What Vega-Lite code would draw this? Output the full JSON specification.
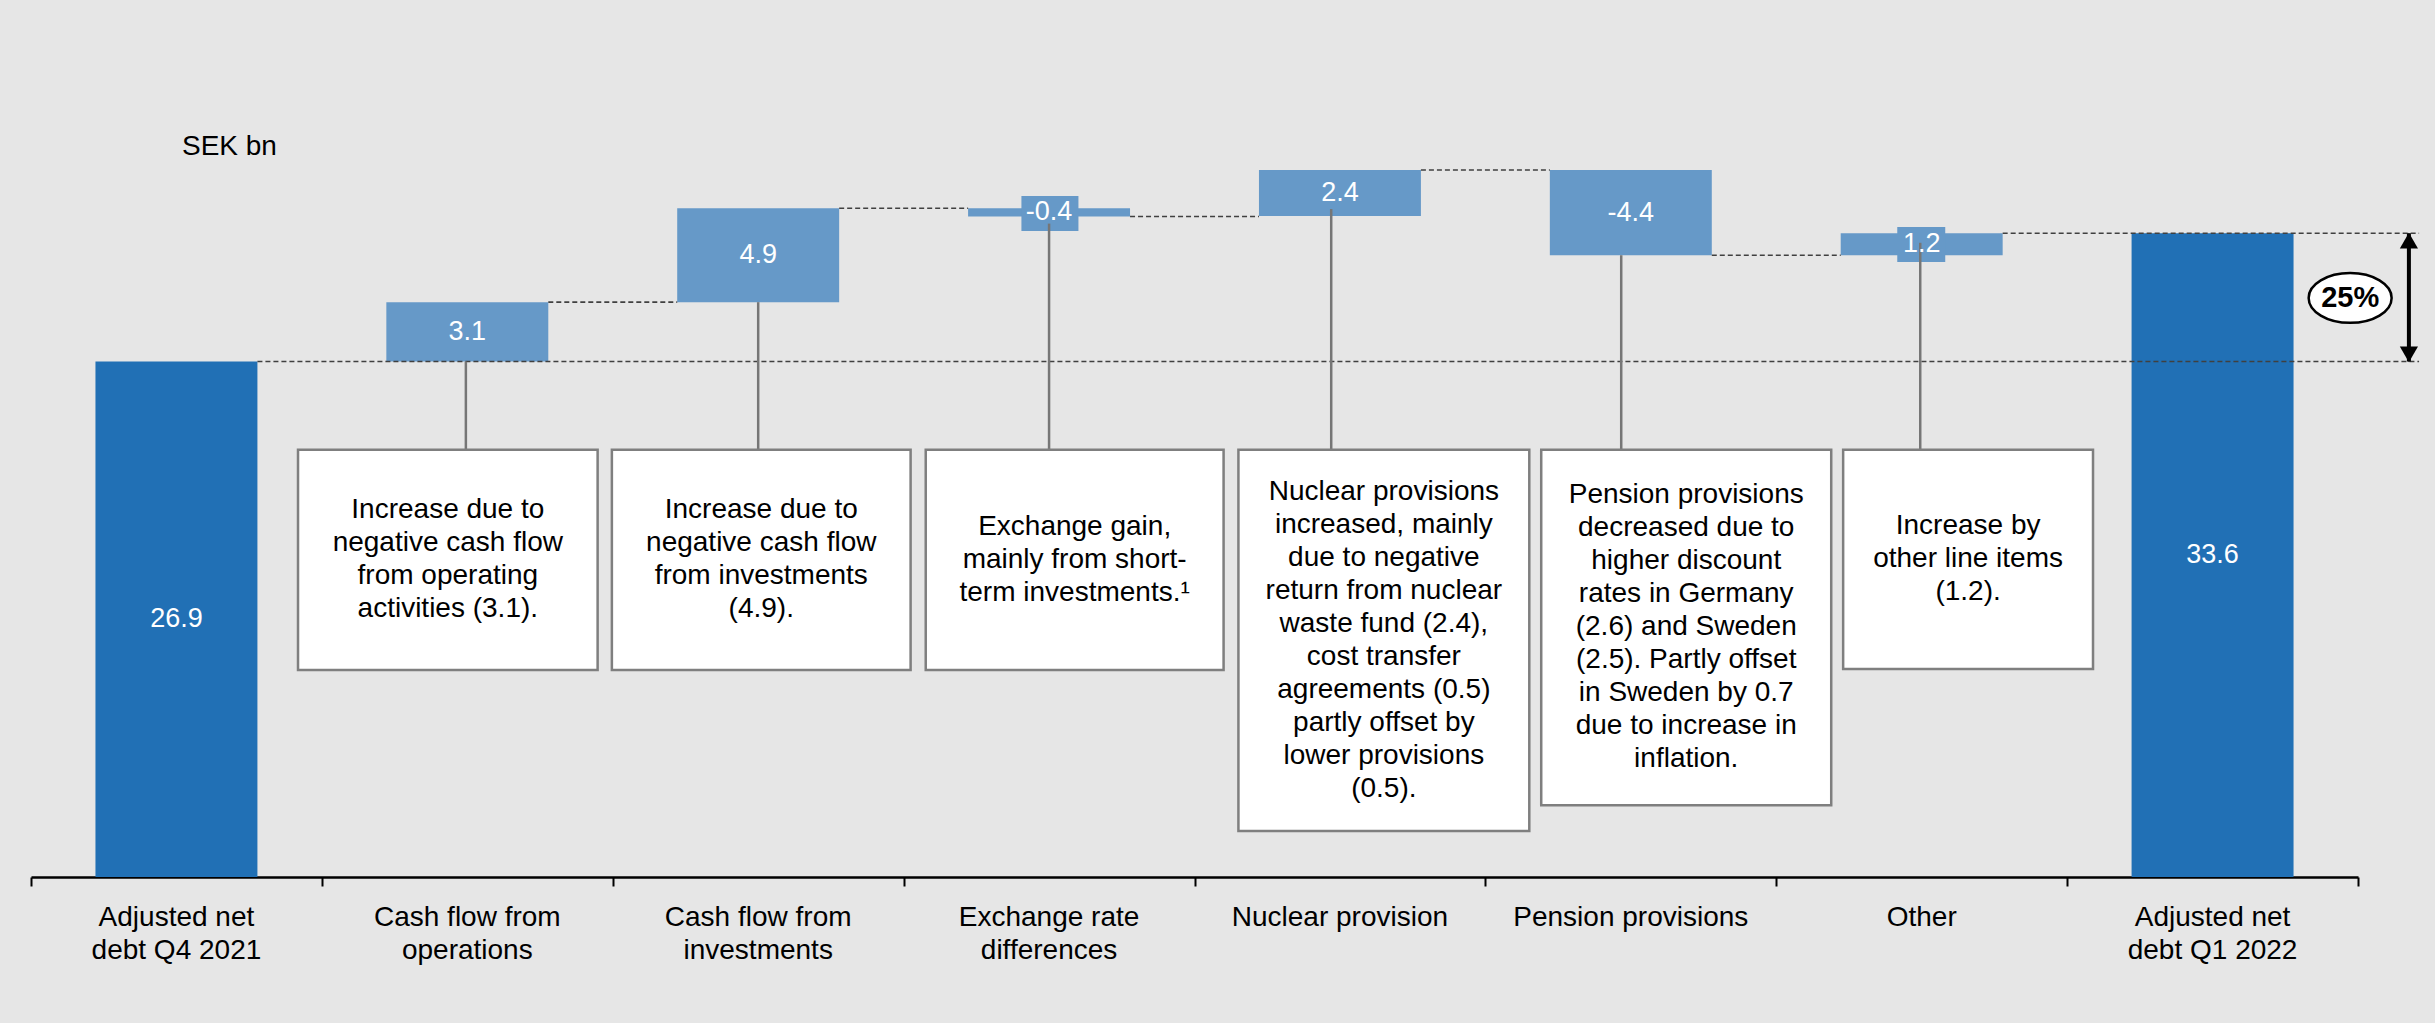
{
  "$schema": "https://vega.github.io/schema/vega-lite/v6.json",
  "width": 2327,
  "height": 877,
  "autosize": {"type": "none"},
  "padding": {"left": 31, "top": 0, "right": 77, "bottom": 146},
  "background": "#e6e6e6",
  "view": {"stroke": null},
  "config": {"font": "Liberation Sans"},
  "datasets": {
    "steps": [
      {"cat": "Adjusted net\ndebt Q4 2021", "i": 0, "start": 0, "end": 26.9, "value": "26.9", "kind": "total"},
      {"cat": "Cash flow from\noperations", "i": 1, "start": 26.9, "end": 30.0, "value": "3.1", "kind": "delta"},
      {"cat": "Cash flow from\ninvestments", "i": 2, "start": 30.0, "end": 34.9, "value": "4.9", "kind": "delta"},
      {"cat": "Exchange rate\ndifferences", "i": 3, "start": 34.47, "end": 34.9, "value": "-0.4", "kind": "delta"},
      {"cat": "Nuclear provision", "i": 4, "start": 34.5, "end": 36.9, "value": "2.4", "kind": "delta"},
      {"cat": "Pension provisions", "i": 5, "start": 32.45, "end": 36.9, "value": "-4.4", "kind": "delta"},
      {"cat": "Other", "i": 6, "start": 32.45, "end": 33.6, "value": "1.2", "kind": "delta"},
      {"cat": "Adjusted net\ndebt Q1 2022", "i": 7, "start": 0, "end": 33.6, "value": "33.6", "kind": "total"}
    ],
    "badges": [
      {"x0": 3.405, "x1": 3.601, "y0": 33.72, "y1": 35.54},
      {"x0": 6.416, "x1": 6.581, "y0": 32.1, "y1": 33.92}
    ],
    "dashes": [
      {"y": 26.9, "x0": 0.7784, "x1": 8.21},
      {"y": 30.0, "x0": 1.7784, "x1": 2.2216},
      {"y": 34.9, "x0": 2.7784, "x1": 3.2216},
      {"y": 34.47, "x0": 3.7784, "x1": 4.2216},
      {"y": 36.9, "x0": 4.7784, "x1": 5.2216},
      {"y": 32.45, "x0": 5.7784, "x1": 6.2216},
      {"y": 33.6, "x0": 6.7784, "x1": 8.21}
    ],
    "boxes": [
      {"x0": 0.918, "x1": 1.948, "top": 22.3, "bottom": 10.8, "lx": 1.495, "ly": 26.9, "note": "Increase due to\nnegative cash flow\nfrom operating\nactivities (3.1)."},
      {"x0": 1.997, "x1": 3.024, "top": 22.3, "bottom": 10.8, "lx": 2.5, "ly": 30.0, "note": "Increase due to\nnegative cash flow\nfrom investments\n(4.9)."},
      {"x0": 3.076, "x1": 4.1, "top": 22.3, "bottom": 10.8, "lx": 3.5, "ly": 34.1, "note": "Exchange gain,\nmainly from short-\nterm investments.¹"},
      {"x0": 4.151, "x1": 5.151, "top": 22.3, "bottom": 2.4, "lx": 4.47, "ly": 34.86, "note": "Nuclear provisions\nincreased, mainly\ndue to negative\nreturn from nuclear\nwaste fund (2.4),\ncost transfer\nagreements (0.5)\npartly offset by\nlower provisions\n(0.5)."},
      {"x0": 5.192, "x1": 6.189, "top": 22.3, "bottom": 3.75, "lx": 5.467, "ly": 32.45, "note": "Pension provisions\ndecreased due to\nhigher discount\nrates in Germany\n(2.6) and Sweden\n(2.5). Partly offset\nin Sweden by 0.7\ndue to increase in\ninflation."},
      {"x0": 6.23, "x1": 7.089, "top": 22.3, "bottom": 10.85, "lx": 6.495, "ly": 33.1, "note": "Increase by\nother line items\n(1.2)."}
    ],
    "arrow": [{"x": 8.175, "from": 26.9, "to": 33.6}],
    "heads": [
      {"x": 8.175, "y": 33.21, "dir": "up"},
      {"x": 8.175, "y": 27.28, "dir": "down"}
    ],
    "badge25": [{"x": 7.973, "y": 30.22, "t": "25%"}],
    "unit": [{"x": 0.519, "y": 38.1, "t": "SEK bn"}]
  },
  "layer": [
    {
      "data": {"name": "steps"},
      "transform": [
        {"calculate": "datum.i + 0.2216", "as": "bx0"},
        {"calculate": "datum.i + 0.7784", "as": "bx1"}
      ],
      "mark": {"type": "rect"},
      "encoding": {
        "x": {"field": "bx0", "type": "quantitative", "scale": {"domain": [0, 8], "nice": false, "zero": false},
              "axis": {"values": [0, 1, 2, 3, 4, 5, 6, 7, 8], "labels": false, "title": null, "grid": false, "tickSize": 9, "tickWidth": 2, "tickColor": "#000000", "domainColor": "#000000", "domainWidth": 2.5}},
        "x2": {"field": "bx1"},
        "y": {"field": "start", "type": "quantitative", "scale": {"domain": [0, 45.77], "nice": false}, "axis": null},
        "y2": {"field": "end"},
        "color": {"field": "kind", "type": "nominal", "scale": {"domain": ["total", "delta"], "range": ["#2170b5", "#6699c8"]}, "legend": null}
      }
    },
    {
      "data": {"name": "badges"},
      "mark": {"type": "rect", "color": "#6699c8"},
      "encoding": {
        "x": {"field": "x0", "type": "quantitative", "scale": {"domain": [0, 8], "nice": false, "zero": false},
              "axis": {"values": [0, 1, 2, 3, 4, 5, 6, 7, 8], "labels": false, "title": null, "grid": false, "tickSize": 9, "tickWidth": 2, "tickColor": "#000000", "domainColor": "#000000", "domainWidth": 2.5}},
        "x2": {"field": "x1"},
        "y": {"field": "y0", "type": "quantitative", "scale": {"domain": [0, 45.77], "nice": false}, "axis": null},
        "y2": {"field": "y1"}
      }
    },
    {
      "data": {"name": "dashes"},
      "mark": {"type": "rule", "color": "#404040", "strokeWidth": 1.6, "strokeDash": [5, 3]},
      "encoding": {
        "x": {"field": "x0", "type": "quantitative", "scale": {"domain": [0, 8], "nice": false, "zero": false},
              "axis": {"values": [0, 1, 2, 3, 4, 5, 6, 7, 8], "labels": false, "title": null, "grid": false, "tickSize": 9, "tickWidth": 2, "tickColor": "#000000", "domainColor": "#000000", "domainWidth": 2.5}},
        "x2": {"field": "x1"},
        "y": {"field": "y", "type": "quantitative", "scale": {"domain": [0, 45.77], "nice": false}, "axis": null}
      }
    },
    {
      "data": {"name": "boxes"},
      "mark": {"type": "rule", "color": "#767676", "strokeWidth": 2.5},
      "encoding": {
        "x": {"field": "lx", "type": "quantitative", "scale": {"domain": [0, 8], "nice": false, "zero": false},
              "axis": {"values": [0, 1, 2, 3, 4, 5, 6, 7, 8], "labels": false, "title": null, "grid": false, "tickSize": 9, "tickWidth": 2, "tickColor": "#000000", "domainColor": "#000000", "domainWidth": 2.5}},
        "y": {"field": "ly", "type": "quantitative", "scale": {"domain": [0, 45.77], "nice": false}, "axis": null},
        "y2": {"field": "top"}
      }
    },
    {
      "data": {"name": "boxes"},
      "mark": {"type": "rect", "fill": "#ffffff", "stroke": "#7f7f7f", "strokeWidth": 2.5},
      "encoding": {
        "x": {"field": "x0", "type": "quantitative", "scale": {"domain": [0, 8], "nice": false, "zero": false},
              "axis": {"values": [0, 1, 2, 3, 4, 5, 6, 7, 8], "labels": false, "title": null, "grid": false, "tickSize": 9, "tickWidth": 2, "tickColor": "#000000", "domainColor": "#000000", "domainWidth": 2.5}},
        "x2": {"field": "x1"},
        "y": {"field": "top", "type": "quantitative", "scale": {"domain": [0, 45.77], "nice": false}, "axis": null},
        "y2": {"field": "bottom"}
      }
    },
    {
      "data": {"name": "boxes"},
      "transform": [
        {"calculate": "(datum.x0 + datum.x1) / 2", "as": "tx"},
        {"calculate": "(datum.top + datum.bottom) / 2 + (length(split(datum.note, '\\n')) - 1) / 2 * 1.722", "as": "ty"}
      ],
      "mark": {"type": "text", "fontSize": 28, "lineHeight": 33, "lineBreak": "\n", "align": "center", "baseline": "middle", "color": "#000000"},
      "encoding": {
        "x": {"field": "tx", "type": "quantitative", "scale": {"domain": [0, 8], "nice": false, "zero": false},
              "axis": {"values": [0, 1, 2, 3, 4, 5, 6, 7, 8], "labels": false, "title": null, "grid": false, "tickSize": 9, "tickWidth": 2, "tickColor": "#000000", "domainColor": "#000000", "domainWidth": 2.5}},
        "y": {"field": "ty", "type": "quantitative", "scale": {"domain": [0, 45.77], "nice": false}, "axis": null},
        "text": {"field": "note"}
      }
    },
    {
      "data": {"name": "steps"},
      "transform": [
        {"calculate": "datum.i + 0.5", "as": "cx"},
        {"calculate": "(datum.start + datum.end) / 2", "as": "mid"}
      ],
      "mark": {"type": "text", "fontSize": 27, "align": "center", "baseline": "middle", "color": "#ffffff"},
      "encoding": {
        "x": {"field": "cx", "type": "quantitative", "scale": {"domain": [0, 8], "nice": false, "zero": false},
              "axis": {"values": [0, 1, 2, 3, 4, 5, 6, 7, 8], "labels": false, "title": null, "grid": false, "tickSize": 9, "tickWidth": 2, "tickColor": "#000000", "domainColor": "#000000", "domainWidth": 2.5}},
        "y": {"field": "mid", "type": "quantitative", "scale": {"domain": [0, 45.77], "nice": false}, "axis": null},
        "text": {"field": "value"}
      }
    },
    {
      "data": {"name": "steps"},
      "transform": [
        {"calculate": "datum.i + 0.5", "as": "cx"}
      ],
      "mark": {"type": "text", "fontSize": 28, "lineHeight": 33, "lineBreak": "\n", "align": "center", "baseline": "top", "color": "#000000"},
      "encoding": {
        "x": {"field": "cx", "type": "quantitative", "scale": {"domain": [0, 8], "nice": false, "zero": false},
              "axis": {"values": [0, 1, 2, 3, 4, 5, 6, 7, 8], "labels": false, "title": null, "grid": false, "tickSize": 9, "tickWidth": 2, "tickColor": "#000000", "domainColor": "#000000", "domainWidth": 2.5}},
        "y": {"datum": -1.4, "type": "quantitative", "scale": {"domain": [0, 45.77], "nice": false}, "axis": null},
        "text": {"field": "cat"}
      }
    },
    {
      "data": {"name": "unit"},
      "mark": {"type": "text", "fontSize": 28, "align": "left", "baseline": "middle", "color": "#000000"},
      "encoding": {
        "x": {"field": "x", "type": "quantitative", "scale": {"domain": [0, 8], "nice": false, "zero": false},
              "axis": {"values": [0, 1, 2, 3, 4, 5, 6, 7, 8], "labels": false, "title": null, "grid": false, "tickSize": 9, "tickWidth": 2, "tickColor": "#000000", "domainColor": "#000000", "domainWidth": 2.5}},
        "y": {"field": "y", "type": "quantitative", "scale": {"domain": [0, 45.77], "nice": false}, "axis": null},
        "text": {"field": "t"}
      }
    },
    {
      "data": {"name": "arrow"},
      "mark": {"type": "rule", "color": "#000000", "strokeWidth": 4},
      "encoding": {
        "x": {"field": "x", "type": "quantitative", "scale": {"domain": [0, 8], "nice": false, "zero": false},
              "axis": {"values": [0, 1, 2, 3, 4, 5, 6, 7, 8], "labels": false, "title": null, "grid": false, "tickSize": 9, "tickWidth": 2, "tickColor": "#000000", "domainColor": "#000000", "domainWidth": 2.5}},
        "y": {"field": "from", "type": "quantitative", "scale": {"domain": [0, 45.77], "nice": false}, "axis": null},
        "y2": {"field": "to"}
      }
    },
    {
      "data": {"name": "heads"},
      "mark": {"type": "point", "filled": true, "size": 330, "color": "#000000", "opacity": 1},
      "encoding": {
        "x": {"field": "x", "type": "quantitative", "scale": {"domain": [0, 8], "nice": false, "zero": false},
              "axis": {"values": [0, 1, 2, 3, 4, 5, 6, 7, 8], "labels": false, "title": null, "grid": false, "tickSize": 9, "tickWidth": 2, "tickColor": "#000000", "domainColor": "#000000", "domainWidth": 2.5}},
        "y": {"field": "y", "type": "quantitative", "scale": {"domain": [0, 45.77], "nice": false}, "axis": null},
        "shape": {"field": "dir", "type": "nominal", "scale": {"domain": ["up", "down"], "range": ["triangle-up", "triangle-down"]}, "legend": null}
      }
    },
    {
      "data": {"name": "badge25"},
      "mark": {"type": "point", "shape": "M-1,0C-1,-0.331,-0.5523,-0.6,0,-0.6C0.5523,-0.6,1,-0.331,1,0C1,0.331,0.5523,0.6,0,0.6C-0.5523,0.6,-1,0.331,-1,0Z", "size": 6889, "filled": true, "fill": "#ffffff", "stroke": "#000000", "strokeWidth": 2.5, "opacity": 1},
      "encoding": {
        "x": {"field": "x", "type": "quantitative", "scale": {"domain": [0, 8], "nice": false, "zero": false},
              "axis": {"values": [0, 1, 2, 3, 4, 5, 6, 7, 8], "labels": false, "title": null, "grid": false, "tickSize": 9, "tickWidth": 2, "tickColor": "#000000", "domainColor": "#000000", "domainWidth": 2.5}},
        "y": {"field": "y", "type": "quantitative", "scale": {"domain": [0, 45.77], "nice": false}, "axis": null}
      }
    },
    {
      "data": {"name": "badge25"},
      "mark": {"type": "text", "fontSize": 29, "fontWeight": "bold", "align": "center", "baseline": "middle", "color": "#000000"},
      "encoding": {
        "x": {"field": "x", "type": "quantitative", "scale": {"domain": [0, 8], "nice": false, "zero": false},
              "axis": {"values": [0, 1, 2, 3, 4, 5, 6, 7, 8], "labels": false, "title": null, "grid": false, "tickSize": 9, "tickWidth": 2, "tickColor": "#000000", "domainColor": "#000000", "domainWidth": 2.5}},
        "y": {"field": "y", "type": "quantitative", "scale": {"domain": [0, 45.77], "nice": false}, "axis": null},
        "text": {"field": "t"}
      }
    }
  ]
}
